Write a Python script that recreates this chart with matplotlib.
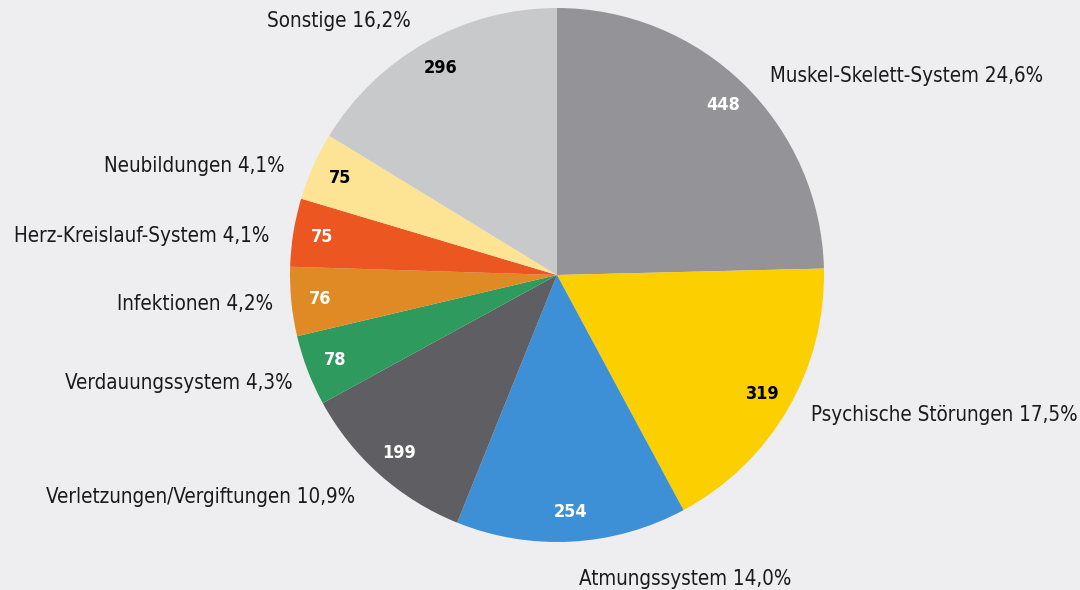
import numpy as np
import matplotlib.pyplot as plt

# Data
categories = ['Muskel-Skelett-System', 'Psychische Störungen', 'Atmungssystem',
              'Verletzungen/Vergiftungen', 'Verdauungssystem', 'Infektionen',
              'Herz-Kreislauf-System', 'Neubildungen', 'Sonstige']
values = [448, 319, 254, 199, 78, 76, 75, 75, 296]
percents = ['24,6%', '17,5%', '14,0%', '10,9%', '4,3%', '4,2%', '4,1%', '4,1%', '16,2%']

colors = ['#939398', '#fcd000', '#3d8fd6', '#5f5e63', '#2f9a5e',
          '#e08a26', '#ec5620', '#fde394', '#c8c9cb']
value_colors = ['white', 'black', 'white', 'white', 'white',
                'white', 'white', 'black', 'black']

bg = '#eeeef0'
plt.rcParams['font.family'] = ['DejaVu Sans']
plt.rcParams['font.stretch'] = 'condensed'

fig = plt.figure(figsize=(10.8, 5.9), dpi=100, facecolor=bg)
# pie centre at (557, 275) px, radius 267 px
cx, cy, r = 557, 275, 267
ax = fig.add_axes([(cx - r) / 1080, (590 - cy - r) / 590, 2 * r / 1080, 2 * r / 590])
ax.set_facecolor(bg)

wedges, texts = ax.pie(values, colors=colors, startangle=90, counterclock=False,
                       radius=1, wedgeprops=dict(linewidth=0))
ax.set_xlim(-1, 1)
ax.set_ylim(-1, 1)
ax.set_aspect('equal')
ax.axis('off')

# small nudges so labels sit where the reference has them
dx = [0.03, 0.0, 0.02, -0.026, 0.037, 0.03, 0.01, -0.015, -0.01]
dy = [-0.04, 0.03, -0.04, -0.01, -0.01, 0, -0.03, -0.04, -0.01]

for i, w in enumerate(wedges):
    mid = np.deg2rad((w.theta1 + w.theta2) / 2)
    # value inside the wedge
    ax.text(0.89 * np.cos(mid), 0.89 * np.sin(mid), str(values[i]),
            ha='center', va='center', fontsize=13, fontweight='bold',
            color=value_colors[i])
    # category label outside
    rl = 1.1
    x, y = rl * np.cos(mid) + dx[i], rl * np.sin(mid) + dy[i]
    ha = 'left' if x > -0.05 else 'right'
    ax.text(x, y, f'{categories[i]} {percents[i]}', ha=ha, va='center',
            fontsize=14.8, color='#1a1a1a', clip_on=False)

plt.savefig('out.png', dpi=100, facecolor=bg)
